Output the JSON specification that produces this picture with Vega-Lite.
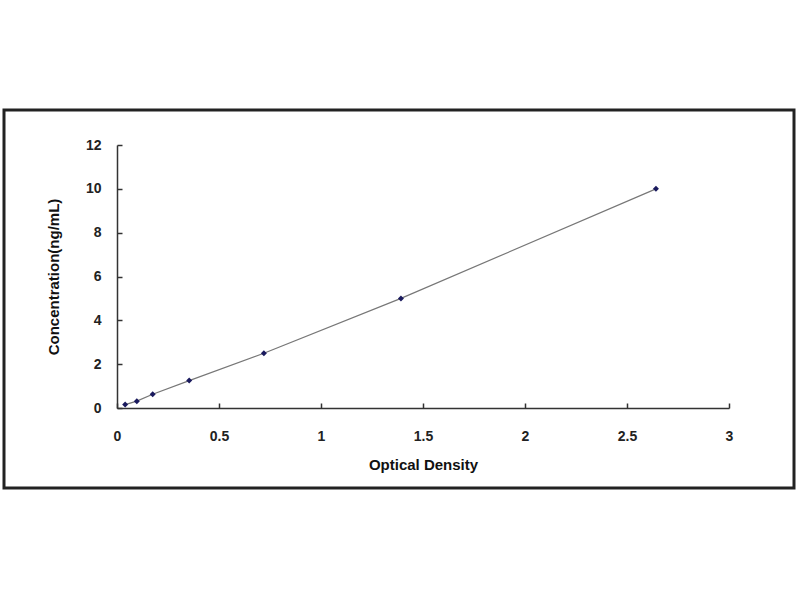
{
  "$schema": "https://vega.github.io/schema/vega-lite/v6.json",
  "autosize": "none",
  "width": 790,
  "height": 378,
  "padding": {"left": 4, "top": 110, "right": 6, "bottom": 112},
  "background": "white",
  "config": {
    "view": {"stroke": "#222222", "strokeWidth": 3},
    "font": "Liberation Sans"
  },
  "data": {
    "values": [
      {"od": 0.04, "conc": 0.156},
      {"od": 0.097, "conc": 0.312},
      {"od": 0.175, "conc": 0.625},
      {"od": 0.354, "conc": 1.25},
      {"od": 0.72, "conc": 2.5},
      {"od": 1.392, "conc": 5},
      {"od": 2.642, "conc": 10}
    ]
  },
  "encoding": {
    "x": {
      "field": "od", "type": "quantitative",
      "scale": {"domain": [0, 3], "range": [113, 725], "nice": false, "zero": false},
      "axis": {
        "title": "Optical Density", "offset": -80, "values": [0, 0.5, 1, 1.5, 2, 2.5, 3],
        "format": "~g", "labelFlush": false,
        "grid": false, "tickSize": -5, "tickColor": "#333333", "domainColor": "#333333",
        "domainWidth": 1.5, "tickWidth": 1.5, "labelPadding": 26,
        "labelFont": "Liberation Sans", "labelFontWeight": "bold", "labelFontSize": 14, "labelColor": "#222222",
        "titleFont": "Liberation Sans", "titleFontWeight": "bold", "titleFontSize": 15, "titleColor": "#111111",
        "titlePadding": 14
      }
    },
    "y": {
      "field": "conc", "type": "quantitative",
      "scale": {"domain": [0, 12], "range": [298, 35], "nice": false, "zero": false},
      "axis": {
        "title": "Concentration(ng/mL)", "offset": -113, "values": [0, 2, 4, 6, 8, 10, 12],
        "labelFlush": false,
        "grid": false, "tickSize": -5, "tickColor": "#333333", "domainColor": "#333333",
        "domainWidth": 1.5, "tickWidth": 1.5, "labelPadding": 21,
        "labelFont": "Liberation Sans", "labelFontWeight": "bold", "labelFontSize": 14, "labelColor": "#222222",
        "titleFont": "Liberation Sans", "titleFontWeight": "bold", "titleFontSize": 15, "titleColor": "#111111",
        "titlePadding": 24
      }
    }
  },
  "layer": [
    {"mark": {"type": "line", "color": "#777777", "strokeWidth": 1.2}},
    {"mark": {"type": "point", "shape": "diamond", "filled": true, "color": "#1a1a5e", "size": 36, "opacity": 1}}
  ]
}
